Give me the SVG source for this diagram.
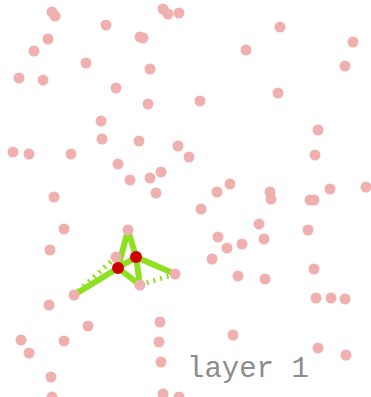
<svg xmlns="http://www.w3.org/2000/svg" width="371" height="397" viewBox="0 0 371 397">
<style>
.p circle{fill:#f0b0b0}
.e{stroke:#8fe01f;stroke-width:6;stroke-linecap:round;fill:none}
.d{stroke:#8fe01f;stroke-width:5;stroke-dasharray:2 5;fill:none}
.r{fill:#d00000}
.t{font-family:"Liberation Mono",monospace;font-size:29px;fill:#8c8c8c}
</style>
<rect width="371" height="397" fill="#fff"/>
<g id="connectors">
<line class="d" x1="116" y1="257" x2="74" y2="295"/>
<line class="d" x1="140" y1="285" x2="175" y2="274"/>
<line class="e" x1="128" y1="230" x2="118" y2="268"/>
<line class="e" x1="128" y1="230" x2="136" y2="257"/>
<line class="e" x1="136" y1="257" x2="140" y2="285"/>
<line class="e" x1="118" y1="268" x2="140" y2="285"/>
<line class="e" x1="118" y1="268" x2="136" y2="257"/>
<line class="e" x1="136" y1="257" x2="175" y2="274"/>
<line class="e" x1="118" y1="268" x2="74" y2="295"/>
</g>
<g class="p" id="points">
<g id="p1"><circle cx="52" cy="12" r="5.5"/></g>
<g id="p2"><circle cx="55" cy="16" r="5.5"/></g>
<g id="p3"><circle cx="106" cy="25" r="5.5"/></g>
<g id="p4"><circle cx="48" cy="39" r="5.5"/></g>
<g id="p5"><circle cx="34" cy="51" r="5.5"/></g>
<g id="p6"><circle cx="86" cy="63" r="5.5"/></g>
<g id="p7"><circle cx="19" cy="78" r="5.5"/></g>
<g id="p8"><circle cx="43" cy="80" r="5.5"/></g>
<g id="p9"><circle cx="116" cy="88" r="5.5"/></g>
<g id="p10"><circle cx="101" cy="121" r="5.5"/></g>
<g id="p11"><circle cx="163" cy="9" r="5.5"/></g>
<g id="p12"><circle cx="168" cy="14" r="5.5"/></g>
<g id="p13"><circle cx="179" cy="13" r="5.5"/></g>
<g id="p14"><circle cx="140" cy="37" r="5.5"/></g>
<g id="p15"><circle cx="143" cy="38" r="5.5"/></g>
<g id="p16"><circle cx="246" cy="50" r="5.5"/></g>
<g id="p17"><circle cx="150" cy="69" r="5.5"/></g>
<g id="p18"><circle cx="148" cy="104" r="5.5"/></g>
<g id="p19"><circle cx="200" cy="101" r="5.5"/></g>
<g id="p20"><circle cx="280" cy="27" r="5.5"/></g>
<g id="p21"><circle cx="353" cy="42" r="5.5"/></g>
<g id="p22"><circle cx="345" cy="66" r="5.5"/></g>
<g id="p23"><circle cx="278" cy="93" r="5.5"/></g>
<g id="p24"><circle cx="318" cy="130" r="5.5"/></g>
<g id="p25"><circle cx="102" cy="139" r="5.5"/></g>
<g id="p26"><circle cx="13" cy="152" r="5.5"/></g>
<g id="p27"><circle cx="29" cy="154" r="5.5"/></g>
<g id="p28"><circle cx="71" cy="154" r="5.5"/></g>
<g id="p29"><circle cx="118" cy="164" r="5.5"/></g>
<g id="p30"><circle cx="54" cy="197" r="5.5"/></g>
<g id="p31"><circle cx="64" cy="229" r="5.5"/></g>
<g id="p32"><circle cx="50" cy="250" r="5.5"/></g>
<g id="p33"><circle cx="116" cy="257" r="5.5"/></g>
<g id="p34"><circle cx="128" cy="230" r="5.5"/></g>
<g id="p35"><circle cx="139" cy="141" r="5.5"/></g>
<g id="p36"><circle cx="178" cy="146" r="5.5"/></g>
<g id="p37"><circle cx="189" cy="157" r="5.5"/></g>
<g id="p38"><circle cx="130" cy="180" r="5.5"/></g>
<g id="p39"><circle cx="150" cy="178" r="5.5"/></g>
<g id="p40"><circle cx="161" cy="172" r="5.5"/></g>
<g id="p41"><circle cx="156" cy="193" r="5.5"/></g>
<g id="p42"><circle cx="230" cy="184" r="5.5"/></g>
<g id="p43"><circle cx="217" cy="192" r="5.5"/></g>
<g id="p44"><circle cx="201" cy="209" r="5.5"/></g>
<g id="p45"><circle cx="218" cy="237" r="5.5"/></g>
<g id="p46"><circle cx="227" cy="248" r="5.5"/></g>
<g id="p47"><circle cx="242" cy="244" r="5.5"/></g>
<g id="p48"><circle cx="212" cy="259" r="5.5"/></g>
<g id="p49"><circle cx="315" cy="155" r="5.5"/></g>
<g id="p50"><circle cx="270" cy="192" r="5.5"/></g>
<g id="p51"><circle cx="271" cy="199" r="5.5"/></g>
<g id="p52"><circle cx="310" cy="200" r="5.5"/></g>
<g id="p53"><circle cx="314" cy="200" r="5.5"/></g>
<g id="p54"><circle cx="330" cy="189" r="5.5"/></g>
<g id="p55"><circle cx="366" cy="187" r="5.5"/></g>
<g id="p56"><circle cx="259" cy="224" r="5.5"/></g>
<g id="p57"><circle cx="264" cy="239" r="5.5"/></g>
<g id="p58"><circle cx="308" cy="230" r="5.5"/></g>
<g id="p59"><circle cx="314" cy="269" r="5.5"/></g>
<g id="p60"><circle cx="74" cy="295" r="5.5"/></g>
<g id="p61"><circle cx="49" cy="305" r="5.5"/></g>
<g id="p62"><circle cx="88" cy="326" r="5.5"/></g>
<g id="p63"><circle cx="21" cy="340" r="5.5"/></g>
<g id="p64"><circle cx="64" cy="341" r="5.5"/></g>
<g id="p65"><circle cx="29" cy="353" r="5.5"/></g>
<g id="p66"><circle cx="51" cy="377" r="5.5"/></g>
<g id="p67"><circle cx="52" cy="397" r="5.5"/></g>
<g id="p68"><circle cx="175" cy="274" r="5.5"/></g>
<g id="p69"><circle cx="140" cy="285" r="5.5"/></g>
<g id="p70"><circle cx="238" cy="276" r="5.5"/></g>
<g id="p71"><circle cx="160" cy="322" r="5.5"/></g>
<g id="p72"><circle cx="159" cy="342" r="5.5"/></g>
<g id="p73"><circle cx="161" cy="362" r="5.5"/></g>
<g id="p74"><circle cx="233" cy="335" r="5.5"/></g>
<g id="p75"><circle cx="163" cy="394" r="5.5"/></g>
<g id="p76"><circle cx="179" cy="397" r="5.5"/></g>
<g id="p77"><circle cx="265" cy="279" r="5.5"/></g>
<g id="p78"><circle cx="316" cy="298" r="5.5"/></g>
<g id="p79"><circle cx="331" cy="298" r="5.5"/></g>
<g id="p80"><circle cx="345" cy="299" r="5.5"/></g>
<g id="p81"><circle cx="318" cy="348" r="5.5"/></g>
<g id="p82"><circle cx="346" cy="355" r="5.5"/></g>
</g>
<g id="nodeA"><circle class="r" cx="118" cy="268" r="6"/></g>
<g id="nodeB"><circle class="r" cx="136" cy="257" r="6"/></g>
<text class="t" x="187" y="377">layer 1</text>
</svg>
